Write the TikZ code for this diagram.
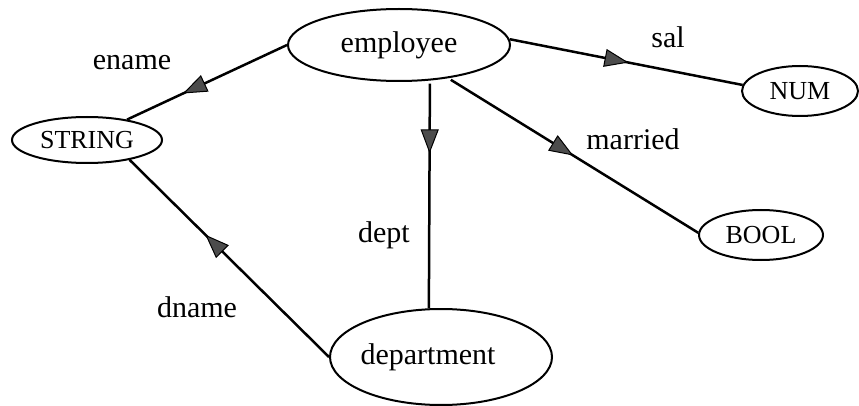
\documentclass[tikz,border=0pt]{standalone}
\usepackage{fontspec}
\setmainfont{Liberation Serif}
\usetikzlibrary{shapes.geometric,arrows.meta,decorations.markings}

\tikzset{
  entity/.style={ellipse, draw, line width=2pt, inner sep=0pt,
    font=\fontsize{30}{36}\selectfont},
  basetype/.style={entity, font=\fontsize{26}{31}\selectfont},
  edgelabel/.style={anchor=base, inner sep=0pt, font=\fontsize{30}{36}\selectfont},
  attr/.style={line width=2.5pt, postaction={decorate, decoration={markings,
    mark=at position #1 with {\arrow{Triangle[length=24pt,width=18pt,fill=black!70,line width=1pt]}}}}}
}

\begin{document}
\begin{tikzpicture}[x=1pt, y=-1pt]
  \useasboundingbox (0,0) rectangle (859,406);

  % entity and value-type nodes
  \node[entity, minimum width=222pt, minimum height=72pt] (emp) at (399,45) {employee};
  \node[entity, minimum width=222pt, minimum height=96pt, inner xsep=-12pt] (dep) at (441,357) {department\hspace*{26pt}};
  \node[basetype, minimum width=150pt, minimum height=46pt] (str) at (87,140) {STRING};
  \node[basetype, minimum width=116pt, minimum height=50pt] (num) at (800,91) {NUM};
  \node[basetype, minimum width=124pt, minimum height=50pt] (bool) at (761,235) {BOOL};

  % attribute arcs
  \draw[attr=0.65] (emp.west) -- (str.27);
  \draw[attr=0.51] (emp.3) -- (num.174);
  \draw[attr=0.5, shorten <=3pt] (emp.-34) -- (bool.178);
  \draw[attr=0.32, shorten <=3pt] (emp.-49) -- (dep.104);
  \draw[attr=0.62] (dep.west) -- (str.-25);

  % arc labels
  \node[edgelabel] (lename) at (132,70) {ename};
  \node[edgelabel] (lsal) at (668,48) {sal};
  \node[edgelabel] (lmarried) at (633,150) {married};
  \node[edgelabel] (ldept) at (384,242) {dept};
  \node[edgelabel] (ldname) at (197,317) {dname};
\end{tikzpicture}
\end{document}
